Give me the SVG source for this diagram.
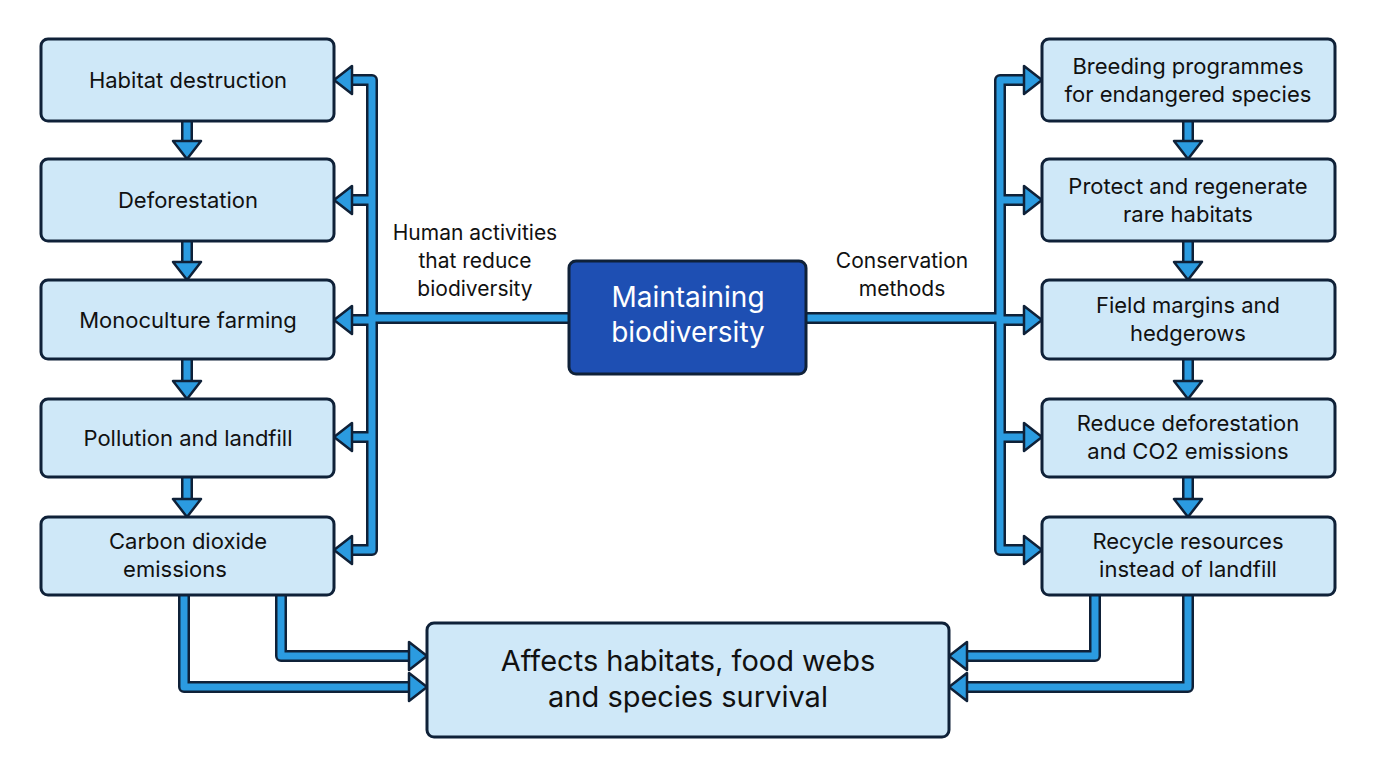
<svg xmlns="http://www.w3.org/2000/svg" width="1376" height="768" viewBox="0 0 1376 768">
<defs><style>
.box{fill:#cfe8f8;stroke:#0f2138;stroke-width:3}
.main{fill:#1e4fb3;stroke:#0f2138;stroke-width:3}
.t{font-family:Inter,"Liberation Sans",sans-serif;font-size:22px;fill:#111;text-anchor:middle}
.lab{font-family:Inter,"Liberation Sans",sans-serif;font-size:21px;fill:#111;text-anchor:middle}
.o{fill:none;stroke:#0f2138;stroke-width:12;stroke-linejoin:round}
.i{fill:none;stroke:#2b9be0;stroke-width:7;stroke-linejoin:round}
.h{fill:#2b9be0;stroke:#0f2138;stroke-width:2.5;stroke-linejoin:round}
</style></defs>
<rect width="1376" height="768" fill="#fff"/>
<g id="connectors">
<path class="o" d="M352 80H372V550H352M352 200H372M352 320H372M352 437H372M372 318H569M187 121V141M187 241V262M187 359V381M187 477V499M1024 80H1000V550H1024M1024 200H1000M1024 320H1000M1024 437H1000M1000 318H806M1188 121V141M1188 241V262M1188 359V381M1188 477V499M184 595V687H409M281 595V656H409M1095 595V656H967M1188 595V687H967"/>
<path class="i" d="M352 80H372V550H352M352 200H372M352 320H372M352 437H372M372 318H569M187 121V141M187 241V262M187 359V381M187 477V499M1024 80H1000V550H1024M1024 200H1000M1024 320H1000M1024 437H1000M1000 318H806M1188 121V141M1188 241V262M1188 359V381M1188 477V499M184 595V687H409M281 595V656H409M1095 595V656H967M1188 595V687H967"/>
<polygon class="h" points="334,80 352,66 352,94"/>
<polygon class="h" points="334,200 352,186 352,214"/>
<polygon class="h" points="334,320 352,306 352,334"/>
<polygon class="h" points="334,437 352,423 352,451"/>
<polygon class="h" points="334,550 352,536 352,564"/>
<polygon class="h" points="1042,80 1024,66 1024,94"/>
<polygon class="h" points="1042,200 1024,186 1024,214"/>
<polygon class="h" points="1042,320 1024,306 1024,334"/>
<polygon class="h" points="1042,437 1024,423 1024,451"/>
<polygon class="h" points="1042,550 1024,536 1024,564"/>
<polygon class="h" points="187,159 173,141 201,141"/>
<polygon class="h" points="187,280 173,262 201,262"/>
<polygon class="h" points="187,399 173,381 201,381"/>
<polygon class="h" points="187,517 173,499 201,499"/>
<polygon class="h" points="1188,159 1174,141 1202,141"/>
<polygon class="h" points="1188,280 1174,262 1202,262"/>
<polygon class="h" points="1188,399 1174,381 1202,381"/>
<polygon class="h" points="1188,517 1174,499 1202,499"/>
<polygon class="h" points="427,656 409,642 409,670"/>
<polygon class="h" points="427,687 409,673 409,701"/>
<polygon class="h" points="949,656 967,642 967,670"/>
<polygon class="h" points="949,687 967,673 967,701"/>
<text class="lab" x="475" y="240">Human activities</text>
<text class="lab" x="475" y="268">that reduce</text>
<text class="lab" x="475" y="296">biodiversity</text>
<text class="lab" x="902" y="268">Conservation</text>
<text class="lab" x="902" y="296">methods</text>
</g>
<g id="n1"><rect class="box" x="41" y="39" width="293" height="82" rx="7"/><text class="t" x="188" y="88">Habitat destruction</text></g>
<g id="n2"><rect class="box" x="41" y="159" width="293" height="82" rx="7"/><text class="t" x="188" y="208">Deforestation</text></g>
<g id="n3"><rect class="box" x="41" y="280" width="293" height="79" rx="7"/><text class="t" x="188" y="328">Monoculture farming</text></g>
<g id="n4"><rect class="box" x="41" y="399" width="293" height="78" rx="7"/><text class="t" x="188" y="446">Pollution and landfill</text></g>
<g id="n5"><rect class="box" x="41" y="517" width="293" height="78" rx="7"/><text class="t" x="188" y="549">Carbon dioxide</text><text class="t" x="175" y="577">emissions</text></g>
<g id="r1"><rect class="box" x="1042" y="39" width="293" height="82" rx="7"/><text class="t" x="1188" y="74">Breeding programmes</text><text class="t" x="1188" y="102">for endangered species</text></g>
<g id="r2"><rect class="box" x="1042" y="159" width="293" height="82" rx="7"/><text class="t" x="1188" y="194">Protect and regenerate</text><text class="t" x="1188" y="222">rare habitats</text></g>
<g id="r3"><rect class="box" x="1042" y="280" width="293" height="79" rx="7"/><text class="t" x="1188" y="313">Field margins and</text><text class="t" x="1188" y="341">hedgerows</text></g>
<g id="r4"><rect class="box" x="1042" y="399" width="293" height="78" rx="7"/><text class="t" x="1188" y="431">Reduce deforestation</text><text class="t" x="1188" y="459">and CO2 emissions</text></g>
<g id="r5"><rect class="box" x="1042" y="517" width="293" height="78" rx="7"/><text class="t" x="1188" y="549">Recycle resources</text><text class="t" x="1188" y="577">instead of landfill</text></g>
<g id="center"><rect class="main" x="569" y="261" width="237" height="113" rx="7"/><text x="688" y="307" font-family="Inter,'Liberation Sans',sans-serif" font-size="28" fill="#fff" text-anchor="middle">Maintaining</text><text x="688" y="342" font-family="Inter,'Liberation Sans',sans-serif" font-size="28" fill="#fff" text-anchor="middle">biodiversity</text></g>
<g id="bottom"><rect class="box" x="427" y="623" width="522" height="114" rx="7"/><text x="688" y="671" font-family="Inter,'Liberation Sans',sans-serif" font-size="29" fill="#111" text-anchor="middle">Affects habitats, food webs</text><text x="688" y="707" font-family="Inter,'Liberation Sans',sans-serif" font-size="29" fill="#111" text-anchor="middle">and species survival</text></g>
</svg>
